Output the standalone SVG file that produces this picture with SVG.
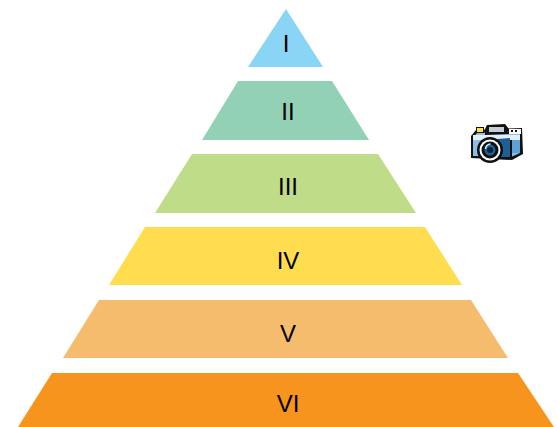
<svg xmlns="http://www.w3.org/2000/svg" width="558" height="427" viewBox="0 0 558 427">
<style>
text{font-family:"Liberation Sans",Arial,sans-serif;font-size:24px;fill:#000;text-anchor:middle}
</style>
<rect width="558" height="427" fill="#fff"/>
<g id="level-1"><polygon points="286,9 323,67 248,67" fill="#8ad5f6"/><text x="286" y="52">I</text></g>
<g id="level-2"><polygon points="238,81 332,81 369,140 202,140" fill="#92d1b6"/><text x="288" y="120">II</text></g>
<g id="level-3"><polygon points="192,154 378,154 416,213 155,213" fill="#bfdc88"/><text x="288" y="195">III</text></g>
<g id="level-4"><polygon points="145,227 425,227 462,285 109,285" fill="#ffdd4f"/><text x="288" y="269">IV</text></g>
<g id="level-5"><polygon points="99,300 471,300 508,358 63,358" fill="#f6bc6e"/><text x="288" y="342">V</text></g>
<g id="level-6"><polygon points="52,373 518,373 554,427 18,427" fill="#f7941e"/><text x="288" y="412">VI</text></g>
<g id="camera">
<polygon points="471,136 476,130 522,128 523,154 512,160 471,158" fill="#111"/>
<polygon points="473,138 477,133 520,131 520,153 511,157 473,156" fill="#8fbce6"/>
<rect x="473" y="135" width="47" height="5" fill="#e6eef5"/>
<polygon points="484,140 510,138 510,157 484,157" fill="#1d5f97"/>
<rect x="510" y="140" width="2" height="17" fill="#111"/>
<rect x="512" y="140" width="8" height="13" fill="#5fa0d8"/>
<polygon points="487,125 505,124 509,129 509,134 485,135 485,129" fill="#111"/>
<rect x="489" y="127" width="15" height="5" fill="#c5ced6"/>
<rect x="476" y="127" width="8" height="6" fill="#111"/>
<rect x="477" y="128" width="6" height="4" fill="#ffe14d"/>
<rect x="509" y="129" width="12" height="5" fill="#fff"/>
<rect x="511" y="130" width="2" height="2" fill="#111"/>
<rect x="515" y="130" width="2" height="2" fill="#111"/>
<circle cx="490" cy="150" r="13" fill="#111"/>
<circle cx="490" cy="150" r="10.5" fill="#fff"/>
<circle cx="490" cy="150" r="8.5" fill="#111"/>
<circle cx="490" cy="150" r="5.5" fill="#1d5f97"/>
<circle cx="490" cy="150" r="3" fill="#0b2238"/>
<path d="M485.5 149a5 5 0 0 1 5-5" fill="none" stroke="#d5ecfb" stroke-width="1.5"/>
</g>
</svg>
